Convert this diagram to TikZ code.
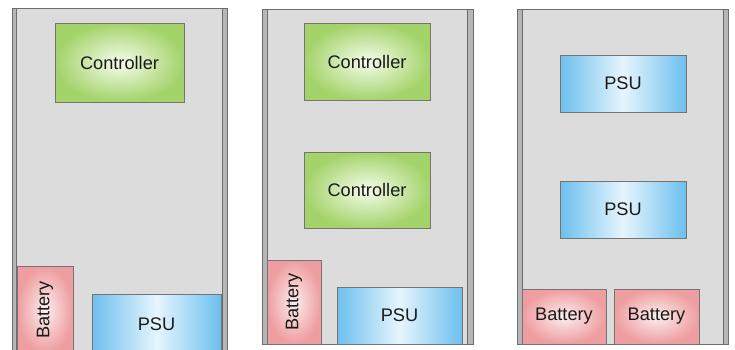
\documentclass[tikz,border=0pt]{standalone}
\usepackage{fontspec}
\setmainfont{Liberation Sans}
\begin{document}
\begin{tikzpicture}[x=1pt,y=-1pt,
  panelfill/.style={fill=pgray},
  stripfill/.style={fill=sgray,draw=egray,line width=0.9pt},
  edge/.style={draw=egray,line width=1pt},
  box/.style={draw=bgray,line width=0.8pt,inner sep=0pt,text=txt,
    font=\fontsize{18.2}{21}\selectfont},
  ctrl/.style={box,inner color=gin,outer color=gout},
  psu/.style={box,left color=bout,right color=bout,middle color=bin},
  batt/.style={box,inner color=rin,outer color=rout},
]
\definecolor{pgray}{HTML}{DCDCDC}
\definecolor{sgray}{HTML}{B6B6B6}
\definecolor{egray}{HTML}{6E6E6E}
\definecolor{bgray}{HTML}{747474}
\definecolor{txt}{HTML}{1A1A1A}
\definecolor{gin}{HTML}{F6FCEC}
\definecolor{gout}{HTML}{A4D36A}
\definecolor{bin}{HTML}{E6F5FD}
\definecolor{bout}{HTML}{6CBFEE}
\definecolor{rin}{HTML}{FCEEEE}
\definecolor{rout}{HTML}{EE9DA0}
\useasboundingbox (0,0) rectangle (735,349);
\clip (0,0) rectangle (735,349);
% Panel 1
\fill[panelfill] (12,8) rectangle (227,356);
\filldraw[stripfill] (12,8) rectangle (16,356);
\filldraw[stripfill] (222,8) rectangle (227,356);
\draw[edge] (12,356) -- (12,8) -- (227,8) -- (227,356);
\node[ctrl,minimum width=129pt,minimum height=79pt] (c1) at (119.5,62.5) {Controller};
\node[batt,rotate=90,minimum width=88pt,minimum height=56pt] (b1) at (45,310) {Battery};
\node[psu,minimum width=129pt,minimum height=60pt] (p1) at (156.5,324) {PSU};
% Panel 2
\fill[panelfill] (262,9) rectangle (473,344);
\filldraw[stripfill] (262,9) rectangle (267,344);
\filldraw[stripfill] (467,9) rectangle (473,344);
\draw[edge] (262,9) rectangle (473,344);
\node[ctrl,minimum width=126pt,minimum height=77pt] (c2a) at (367,61.5) {Controller};
\node[ctrl,minimum width=126pt,minimum height=76pt] (c2b) at (367,190) {Controller};
\node[batt,rotate=90,minimum width=84pt,minimum height=54pt] (b2) at (294,302) {Battery};
\node[psu,minimum width=125pt,minimum height=57pt] (p2) at (399.5,315.5) {PSU};
% Panel 3
\fill[panelfill] (517,9) rectangle (728,344);
\filldraw[stripfill] (517,9) rectangle (522,344);
\filldraw[stripfill] (723,9) rectangle (728,344);
\draw[edge] (517,9) rectangle (728,344);
\node[psu,minimum width=126pt,minimum height=57pt] (p3a) at (623,83.5) {PSU};
\node[psu,minimum width=126pt,minimum height=57pt] (p3b) at (623,209.5) {PSU};
\node[batt,minimum width=84pt,minimum height=55pt] (b3a) at (564,316.5) {Battery};
\node[batt,minimum width=85pt,minimum height=55pt] (b3b) at (656.5,316.5) {Battery};
\end{tikzpicture}
\end{document}
